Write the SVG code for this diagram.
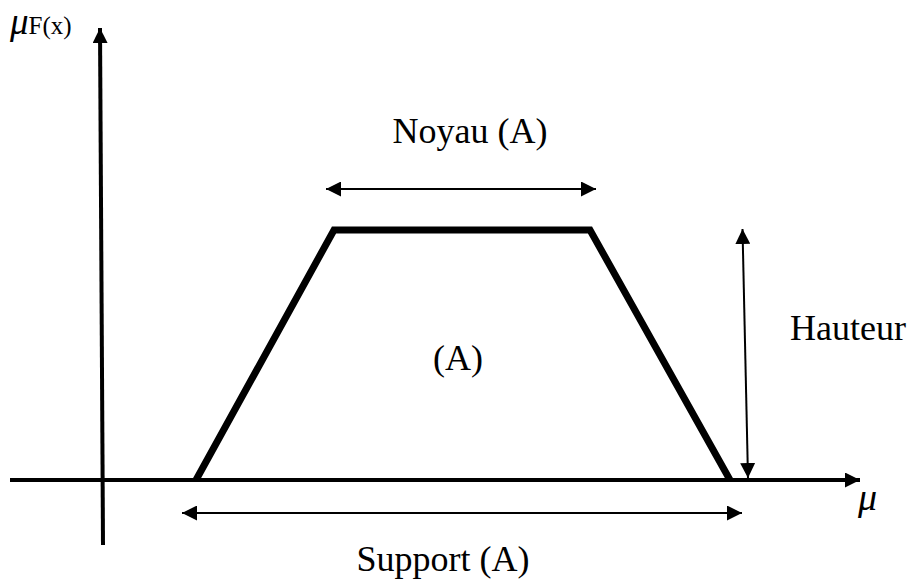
<svg xmlns="http://www.w3.org/2000/svg" width="912" height="582" viewBox="0 0 912 582">
<style>
text{font-family:"Liberation Serif","Times New Roman",serif;fill:#000}
.lbl{font-size:36px}
.thin{stroke:#000;stroke-width:2;fill:none}
</style>
<defs>
<marker id="ah" viewBox="0 0 10 10" refX="10" refY="5" markerWidth="15" markerHeight="15" markerUnits="userSpaceOnUse" orient="auto-start-reverse"><path d="M0,0L10,5L0,10z" fill="#000"/></marker>
<marker id="ahb" viewBox="0 0 10 10" refX="10" refY="5" markerWidth="15" markerHeight="15" markerUnits="userSpaceOnUse" orient="auto"><path d="M0,0L10,5L0,10z" fill="#000"/></marker>
</defs>
<g id="axes">
<line x1="103" y1="545" x2="100" y2="28" stroke="#000" stroke-width="4" marker-end="url(#ahb)"/>
<line x1="10" y1="480" x2="860" y2="480" stroke="#000" stroke-width="4" marker-end="url(#ahb)"/>
</g>
<g id="trapezoid">
<polyline points="196,480 334,230 590,230 730,480" fill="none" stroke="#000" stroke-width="7" stroke-linejoin="miter"/>
</g>
<g id="connectors">
<line class="thin" x1="326" y1="189" x2="596" y2="189" marker-start="url(#ah)" marker-end="url(#ah)"/>
<line class="thin" x1="742.5" y1="229" x2="748" y2="478" marker-start="url(#ah)" marker-end="url(#ah)"/>
<line class="thin" x1="182" y1="513" x2="742" y2="513" marker-start="url(#ah)" marker-end="url(#ah)"/>
</g>
<g id="labels">
<text class="lbl" x="470" y="143" text-anchor="middle">Noyau (A)</text>
<text class="lbl" x="458" y="370" text-anchor="middle">(A)</text>
<text class="lbl" x="790" y="340">Hauteur</text>
<text class="lbl" x="443" y="571" text-anchor="middle">Support (A)</text>
<text x="858" y="510" font-size="38" font-style="italic">μ</text>
<text x="10" y="34" font-size="37" font-style="italic">μ<tspan font-style="normal" font-size="25">F(x)</tspan></text>
</g>
</svg>
